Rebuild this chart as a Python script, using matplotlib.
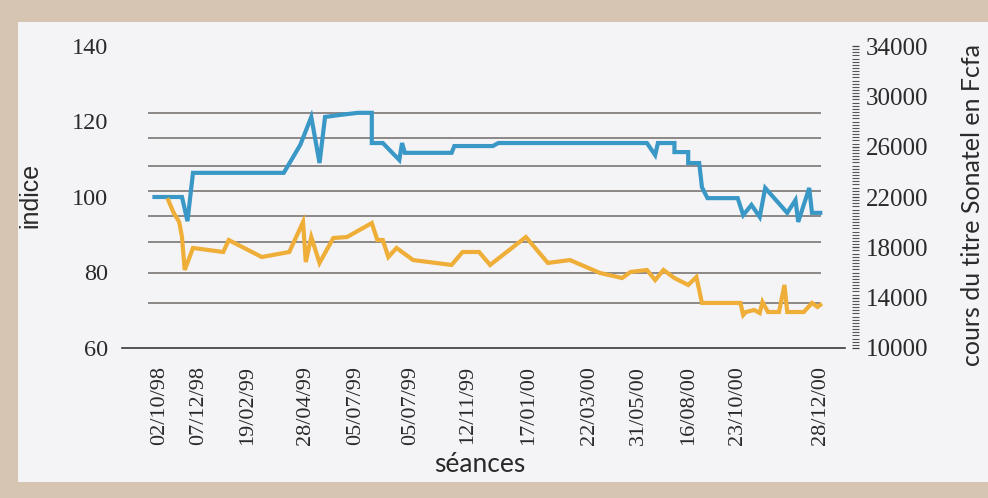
"""Indice BRVM vs cours du titre Sonatel, 1998-2000."""

import matplotlib

matplotlib.use("Agg")

import matplotlib.pyplot as plt
from matplotlib.patches import Rectangle
from matplotlib.ticker import MultipleLocator

# x = numero de seance (0 = 02/10/98)
TICK_SESSIONS = [0, 7, 16, 26.5, 35.5, 45.5, 56, 67, 78, 87, 96, 105, 120]
TICK_LABELS = [
    "02/10/98", "07/12/98", "19/02/99", "28/04/99", "05/07/99", "05/07/99",
    "12/11/99", "17/01/00", "22/03/00", "31/05/00", "16/08/00", "23/10/00",
    "28/12/00",
]

# indice (axe de gauche)
INDEX_SESSIONS = [
    -1, 4, 5, 5.5, 6, 22.5, 25.5, 27.5, 29, 30, 32.5,
    36, 38.5, 38.5, 40.5, 43.5, 44, 44.5, 53, 53.5, 60.5,
    61.5, 88.5, 90, 90.5, 93.5, 93.5, 96, 96, 98, 98.5,
    99.5, 105, 106, 107.5, 109, 110, 114, 115.5, 116, 118,
    118.5, 120,
]
INDEX_VALUES = [
    100, 100, 93.6, 100, 106.4, 106.4, 113.8, 121.2, 109.0, 121.2, 121.7,
    122.3, 122.3, 114.3, 114.3, 109.8, 114.3, 111.7, 111.7, 113.5, 113.5,
    114.3, 114.3, 111.1, 114.3, 114.3, 111.9, 111.9, 109.0, 109.0, 102.6,
    99.7, 99.7, 95.2, 97.9, 94.7, 102.4, 95.8, 99.2, 93.4, 102.4,
    95.8, 95.8,
]

# cours Sonatel en Fcfa (axe de droite)
PRICE_SESSIONS = [
    1.5, 2.5, 3.5, 4, 4.5, 6, 11.5, 12.5, 18.5, 23.5,
    26, 26.5, 27.5, 29, 31.5, 34, 38.5, 39.5, 40.5, 41.5,
    43, 46, 53, 55, 58, 60, 66.5, 70.5, 74.5, 80,
    84, 85.5, 88.5, 90, 91.5, 93.5, 96, 97.5, 98.5, 105.5,
    106, 106.5, 108, 109, 109.5, 110.5, 112.5, 113.5, 114, 117,
    118.5, 119.5, 120,
]
PRICE_VALUES = [
    21760, 20730, 20010, 18820, 16200, 17950, 17630, 18580, 17230, 17630,
    20010, 16830, 18820, 16760, 18740, 18820, 19930, 18580, 18580, 17230,
    17950, 16990, 16600, 17630, 17630, 16600, 18820, 16760, 16990, 15960,
    15560, 16040, 16200, 15400, 16200, 15560, 15010, 15640, 13580, 13580,
    12620, 12860, 13020, 12780, 13660, 12860, 12860, 15010, 12860, 12860,
    13580, 13260, 13420,
]

LEFT_TICKS = [60, 80, 100, 120, 140]
RIGHT_TICKS = [10000, 14000, 18000, 22000, 26000, 30000, 34000]
# rules as they sit in the scan, read in Fcfa
GRID_VALUES = [13600, 16000, 18400, 20500, 22500, 24500, 26700, 28700]

BLUE = "#3a98c6"
ORANGE = "#eeae38"
GRID_COLOR = "#6f6b6a"
TEXT_COLOR = "#2a2a2a"
NUM_FONT = "Liberation Serif"
LABEL_FONT = "Lato"


def main() -> None:
    fig = plt.figure(figsize=(9.88, 4.98), dpi=100)
    fig.patch.set_facecolor("#d6c5b3")
    fig.patches.append(
        Rectangle((18 / 988, 16 / 498), 1, 460 / 498, transform=fig.transFigure,
                  facecolor="#f4f3f5", edgecolor="none", zorder=-5)
    )

    ax = fig.add_axes([122 / 988, 150 / 498, 723 / 988, 302 / 498])
    ax.set_facecolor("none")
    ax2 = ax.twinx()
    ax2.set_facecolor("none")

    ax.set_xlim(-6.9, 124.5)
    ax.set_ylim(60, 140)
    ax2.set_ylim(10000, 34000)

    # horizontal rules, placed in Fcfa units but drawn under the index line
    ax.hlines(GRID_VALUES, 0.036, 0.967, transform=ax2.get_yaxis_transform(),
              color=GRID_COLOR, linewidth=1.1, zorder=1)

    ax.plot(INDEX_SESSIONS, INDEX_VALUES, color=BLUE, linewidth=3.0,
            solid_joinstyle="miter", zorder=3)
    ax2.plot(PRICE_SESSIONS, PRICE_VALUES, color=ORANGE, linewidth=3.0,
             solid_joinstyle="miter", zorder=3)

    for side in ("left", "top", "right"):
        ax.spines[side].set_visible(False)
    ax.spines["bottom"].set_color("#3a3a3a")
    ax.spines["bottom"].set_linewidth(1.2)
    for spine in ax2.spines.values():
        spine.set_visible(False)

    ax.set_xticks(TICK_SESSIONS)
    ax.set_xticklabels(TICK_LABELS, rotation=90, fontsize=16,
                       family=NUM_FONT, color=TEXT_COLOR)
    ax.tick_params(axis="x", length=0, pad=13)

    ax.set_yticks(LEFT_TICKS)
    ax.set_yticklabels([str(v) for v in LEFT_TICKS], fontsize=17.5,
                       family=NUM_FONT, color=TEXT_COLOR)
    ax.tick_params(axis="y", length=0, pad=10)

    ax2.spines["right"].set_position(("outward", 5))
    ax2.set_yticks(RIGHT_TICKS)
    ax2.set_yticklabels([str(v) for v in RIGHT_TICKS], fontsize=18,
                        family=NUM_FONT, color=TEXT_COLOR)
    ax2.yaxis.set_minor_locator(MultipleLocator(250))
    ax2.tick_params(axis="y", which="major", direction="out", length=5,
                    width=0.9, color="#444444", pad=5)
    ax2.tick_params(axis="y", which="minor", direction="out", length=5,
                    width=0.8, color="#555555")

    fig.text(480 / 988, 1 - 464 / 498, "séances", ha="center", va="center",
             fontsize=19, family=LABEL_FONT, color=TEXT_COLOR)
    fig.text(972 / 988, 1 - 205 / 498, "cours du titre Sonatel en Fcfa",
             rotation=90, ha="center", va="center", fontsize=18,
             family=LABEL_FONT, color=TEXT_COLOR)
    fig.text(30 / 988, 1 - 195 / 498, "indice", rotation=90, ha="center",
             va="center", fontsize=18, family="Liberation Sans",
             color=TEXT_COLOR)

    fig.savefig("out.png", dpi=100, facecolor=fig.get_facecolor())
    plt.close(fig)


if __name__ == "__main__":
    main()
